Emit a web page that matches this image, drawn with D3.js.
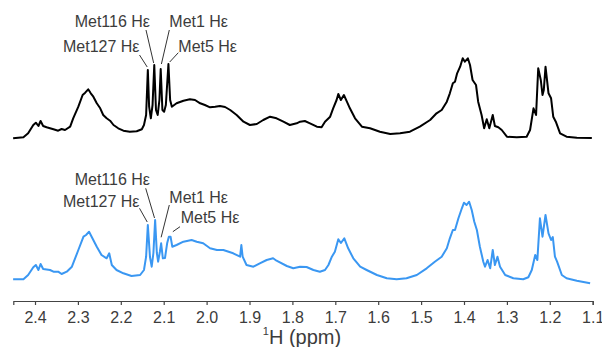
<!DOCTYPE html>
<html>
<head>
<meta charset="utf-8">
<script src="https://cdn.jsdelivr.net/npm/d3@7"></script>
<style>
  html, body { margin: 0; padding: 0; background: #fff; }
  svg { display: block; font-family: "Liberation Sans", Arial, sans-serif; }
</style>
</head>
<body>
<svg id="chart" width="602" height="347"></svg>
<script>
// Chemical shift (ppm) / intensity (a.u.) pairs for the two 1H spectra
const spectrumBlack = [
  [2.451,1.7],[2.427,2.7],[2.416,6.7],[2.404,15],[2.398,17.3],[2.392,14],[2.387,19],[2.381,14],
  [2.373,12.7],[2.365,11.7],[2.357,10.7],[2.346,9.3],[2.338,11],[2.330,10],[2.318,13.3],[2.311,21.7],
  [2.299,33.3],[2.289,45],[2.283,47.3],[2.276,50.7],[2.270,46.7],[2.264,43.3],[2.256,36.7],[2.248,31.7],
  [2.241,25],[2.233,21.7],[2.225,19.3],[2.217,15],[2.206,11.7],[2.194,9.3],[2.179,8.3],[2.163,8.7],
  [2.151,10.7],[2.146,15],[2.141,25],[2.137,70],[2.134,33.3],[2.130,21.7],[2.126,35],[2.122,75],
  [2.118,30],[2.114,25],[2.110,40],[2.107,71],[2.103,30],[2.099,28.3],[2.095,35],[2.089,76],
  [2.085,40],[2.081,33.3],[2.070,36.7],[2.054,39.3],[2.039,40.7],[2.027,40],[2.015,36.7],[2.004,35],
  [1.992,32.7],[1.980,33.3],[1.969,34],[1.957,33],[1.945,30],[1.930,25],[1.914,18.3],[1.899,15],
  [1.883,16],[1.868,20],[1.852,23.3],[1.837,21.7],[1.821,18.3],[1.806,15],[1.790,16.7],[1.782,18.3],
  [1.771,19],[1.759,16.7],[1.743,13.3],[1.732,12.7],[1.724,18.3],[1.712,23.3],[1.705,31.7],[1.697,40],
  [1.693,46],[1.687,40],[1.680,45],[1.673,38.3],[1.666,31.7],[1.654,21.7],[1.638,13.3],[1.619,11.7],
  [1.596,8.3],[1.572,6],[1.549,6.7],[1.526,8.3],[1.503,13.3],[1.479,20],[1.464,26.7],[1.452,30],
  [1.440,38.3],[1.433,46.7],[1.426,56.7],[1.421,58.3],[1.416,66.7],[1.409,73.3],[1.403,81.7],[1.398,78.3],
  [1.391,81.7],[1.386,75],[1.380,60],[1.372,55],[1.367,38.3],[1.359,25],[1.353,11.7],[1.347,20.7],
  [1.341,11.7],[1.333,25],[1.328,14],[1.320,12.7],[1.312,10],[1.300,3.3],[1.277,2.7],[1.254,3.3],
  [1.246,10],[1.238,31.7],[1.232,25],[1.227,71.7],[1.221,60],[1.217,45],[1.214,50],[1.210,73.3],
  [1.203,46.7],[1.197,41.7],[1.192,23.3],[1.186,18.3],[1.176,6.7],[1.161,3.3],[1.137,2.3],[1.102,2]
];

const spectrumBlue = [
  [2.451,5.7],[2.427,5.7],[2.416,10],[2.404,17.7],[2.398,20],[2.392,15],[2.387,21],[2.381,16],
  [2.365,15],[2.357,13.3],[2.346,13.3],[2.338,11],[2.326,13.3],[2.314,18.3],[2.299,35],[2.287,48.3],
  [2.281,50],[2.274,53.3],[2.268,48.3],[2.256,38.3],[2.245,30],[2.233,26.7],[2.227,31.7],[2.221,20],
  [2.210,15],[2.194,11.7],[2.175,9],[2.155,10],[2.146,15],[2.141,28.3],[2.137,60],[2.132,28],
  [2.128,18.3],[2.124,32],[2.120,65],[2.116,32],[2.113,23.3],[2.109,33],[2.106,41.7],[2.102,26.7],
  [2.097,27],[2.092,41.7],[2.088,48.3],[2.084,48.3],[2.080,38.3],[2.070,40],[2.054,43.3],[2.035,45],
  [2.023,43.3],[2.008,41.7],[1.992,36.7],[1.976,35],[1.961,35],[1.938,31.7],[1.922,28.3],[1.919,40],
  [1.916,28.3],[1.907,20],[1.891,18.3],[1.876,21.7],[1.860,25],[1.845,26.7],[1.837,24.3],[1.813,19],
  [1.798,16.7],[1.782,18.3],[1.767,18],[1.751,15],[1.736,13.3],[1.724,15],[1.716,20],[1.708,28.3],
  [1.701,33.3],[1.693,45.7],[1.687,42],[1.679,46.7],[1.670,36.7],[1.658,26.7],[1.642,18.3],[1.627,15],
  [1.603,10],[1.580,6.7],[1.557,5.7],[1.534,6.7],[1.510,10],[1.487,16.7],[1.468,23.3],[1.452,28.3],
  [1.440,36.7],[1.433,46.7],[1.426,55],[1.421,55],[1.413,66.7],[1.405,76.7],[1.400,82.3],[1.394,80],
  [1.388,83.3],[1.382,75],[1.376,63.3],[1.370,55],[1.363,38.3],[1.355,23.3],[1.351,18.3],[1.345,25],
  [1.339,16.7],[1.333,35],[1.328,20],[1.322,28.3],[1.316,18.3],[1.304,10],[1.285,6.7],[1.262,5.7],
  [1.250,7.7],[1.242,15],[1.234,30],[1.229,25],[1.223,66.7],[1.217,48.3],[1.210,70],[1.203,51.7],
  [1.197,45],[1.193,48],[1.188,28.3],[1.183,23.3],[1.172,10],[1.161,6.7],[1.137,4.3],[1.106,1.7]
];

const tickValues = [2.4, 2.3, 2.2, 2.1, 2.0, 1.9, 1.8, 1.7, 1.6, 1.5, 1.4, 1.3, 1.2, 1.1];

// Methionine H-epsilon assignments: label and peak position (ppm)
const assignmentNames = ["Met127 H\u03B5", "Met116 H\u03B5", "Met1 H\u03B5", "Met5 H\u03B5"];
const assignmentPpm = [2.137, 2.122, 2.107, 2.089];
const assignmentPpmBlue = [2.137, 2.120, 2.106, 2.088];

// ---- layout ----
const svg = d3.select("#chart");
const x = d3.scaleLinear().domain([2.4506, 1.1]).range([13.3, 592.7]);
const yBlack = d3.scaleLinear().domain([0, 100]).range([140, 40]);
const yBlue = d3.scaleLinear().domain([0, 100]).range([285, 185]);

const lineBlack = d3.line().x(d => x(d[0])).y(d => yBlack(d[1]));
const lineBlue = d3.line().x(d => x(d[0])).y(d => yBlue(d[1]));

svg.append("path").datum(spectrumBlack)
  .attr("d", lineBlack).attr("fill", "none")
  .attr("stroke", "#000").attr("stroke-width", 2).attr("stroke-linejoin", "round");

svg.append("path").datum(spectrumBlue)
  .attr("d", lineBlue).attr("fill", "none")
  .attr("stroke", "#3a97f2").attr("stroke-width", 2).attr("stroke-linejoin", "round");

// axis
const axis = d3.axisBottom(x)
  .tickValues(tickValues)
  .tickFormat(d3.format(".1f"))
  .tickSizeOuter(0)
  .tickSize(4)
  .tickPadding(7);

const gAxis = svg.append("g").attr("transform", "translate(0,301)").call(axis);
gAxis.select(".domain").attr("stroke", "#444").attr("stroke-width", 1.2);
gAxis.selectAll(".tick line").attr("stroke", "#444").attr("stroke-width", 1.2);
gAxis.selectAll(".tick text")
  .attr("font-family", "\"Liberation Sans\", Arial, sans-serif")
  .attr("font-size", 16).attr("fill", "#3c3c3c");

const title = svg.append("text")
  .attr("x", 302).attr("y", 344)
  .attr("text-anchor", "middle")
  .attr("font-size", 20).attr("fill", "#3c3c3c");
title.append("tspan").attr("font-size", 11).attr("dy", -9).text("1");
title.append("tspan").attr("dy", 9).text("H (ppm)");

// annotation layout: text anchor, baseline, leader start and leader end offset
const layoutBlack = [
  { tx: 139.5, ty: 51.7, anchor: "end",   lx: 139.5, ly: 55,   dx: -0.6, gap: 3 },
  { tx: 150,   ty: 27.3, anchor: "end",   lx: 146,   ly: 30,   dx: -0.6, gap: 2 },
  { tx: 169.3, ty: 27.3, anchor: "start", lx: 169.3, ly: 30,   dx: 0.7,  gap: 5 },
  { tx: 178.3, ty: 51.7, anchor: "start", lx: 178.3, ly: 52.7, dx: 1.3,  gap: 2 }
];
const layoutBlue = [
  { tx: 139.5, ty: 206.7, anchor: "end",   lx: 139.5, ly: 208.3, dx: -0.6, gap: 3 },
  { tx: 150,   ty: 185,   anchor: "end",   lx: 145.7, ly: 188.3, dx: -0.6, gap: 2 },
  { tx: 169.3, ty: 202.7, anchor: "start", lx: 169.3, ly: 205,   dx: 0,    gap: 6 },
  { tx: 180.7, ty: 223.3, anchor: "start", lx: 180,   ly: 226.7, dx: 4,    gap: 5 }
];

function annotate(ppms, series, yScale, layout) {
  const g = svg.append("g");
  assignmentNames.forEach((name, i) => {
    const p = ppms[i];
    const hit = series.reduce((a, b) => Math.abs(b[0] - p) < Math.abs(a[0] - p) ? b : a);
    const L = layout[i];
    g.append("line")
      .attr("x1", L.lx).attr("y1", L.ly)
      .attr("x2", x(p) + L.dx).attr("y2", yScale(hit[1]) - L.gap)
      .attr("stroke", "#333").attr("stroke-width", 1);
    g.append("text")
      .attr("x", L.tx).attr("y", L.ty)
      .attr("text-anchor", L.anchor)
      .attr("font-size", 16).attr("fill", "#3c3c3c")
      .text(name);
  });
}

annotate(assignmentPpm, spectrumBlack, yBlack, layoutBlack);
annotate(assignmentPpmBlue, spectrumBlue, yBlue, layoutBlue);
</script>
</body>
</html>
